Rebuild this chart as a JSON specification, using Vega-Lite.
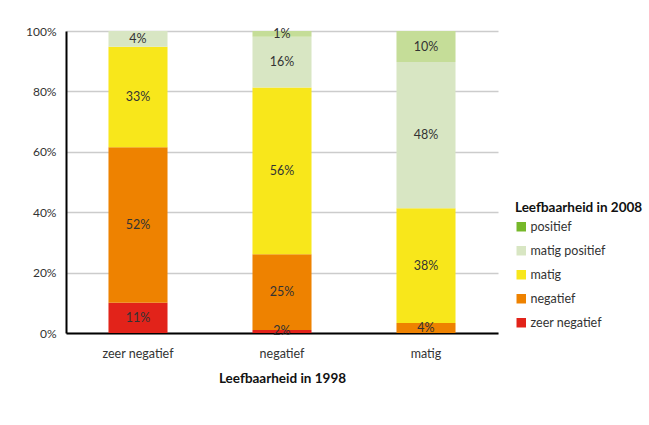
{
  "$schema": "https://vega.github.io/schema/vega-lite/v6.json",
  "autosize": {"type": "none"},
  "width": 432,
  "height": 302,
  "padding": {"left": 66, "top": 31, "right": 151, "bottom": 92},
  "background": "white",
  "config": {
    "font": "Lato",
    "view": {"stroke": null},
    "axis": {"labelFont": "Lato", "titleFont": "Lato"},
    "legend": {"labelFont": "Lato", "titleFont": "Lato"}
  },
  "data": {
    "values": [
      {"jaar1998": "zeer negatief", "jaar2008": "zeer negatief", "rank": 1, "aandeel": 0.100, "label": "11%"},
      {"jaar1998": "zeer negatief", "jaar2008": "negatief", "rank": 2, "aandeel": 0.515, "label": "52%"},
      {"jaar1998": "zeer negatief", "jaar2008": "matig", "rank": 3, "aandeel": 0.333, "label": "33%"},
      {"jaar1998": "zeer negatief", "jaar2008": "matig positief", "rank": 4, "aandeel": 0.052, "label": "4%"},
      {"jaar1998": "negatief", "jaar2008": "zeer negatief", "rank": 1, "aandeel": 0.010, "label": "2%"},
      {"jaar1998": "negatief", "jaar2008": "negatief", "rank": 2, "aandeel": 0.251, "label": "25%"},
      {"jaar1998": "negatief", "jaar2008": "matig", "rank": 3, "aandeel": 0.552, "label": "56%"},
      {"jaar1998": "negatief", "jaar2008": "matig positief", "rank": 4, "aandeel": 0.168, "label": "16%"},
      {"jaar1998": "negatief", "jaar2008": "positief", "rank": 5, "aandeel": 0.019, "label": "1%"},
      {"jaar1998": "matig", "jaar2008": "negatief", "rank": 2, "aandeel": 0.033, "label": "4%"},
      {"jaar1998": "matig", "jaar2008": "matig", "rank": 3, "aandeel": 0.380, "label": "38%"},
      {"jaar1998": "matig", "jaar2008": "matig positief", "rank": 4, "aandeel": 0.484, "label": "48%"},
      {"jaar1998": "matig", "jaar2008": "positief", "rank": 5, "aandeel": 0.103, "label": "10%"}
    ]
  },
  "encoding": {
    "x": {
      "field": "jaar1998",
      "type": "nominal",
      "sort": ["zeer negatief", "negatief", "matig"],
      "scale": {"paddingInner": 0.59, "paddingOuter": 0.295},
      "axis": {
        "title": "Leefbaarheid in 1998",
        "labelAngle": 0,
        "labelFontSize": 12.5,
        "labelColor": "#333333",
        "labelPadding": 14,
        "ticks": false,
        "domainColor": "#000000",
        "domainWidth": 2,
        "titleFontSize": 13.5,
        "titleFontWeight": "bold",
        "titleColor": "#111111",
        "titlePadding": 12
      }
    }
  },
  "layer": [
    {
      "mark": {"type": "bar"},
      "encoding": {
        "y": {
          "field": "aandeel",
          "type": "quantitative",
          "stack": "zero",
          "scale": {"domain": [0, 1]},
          "axis": {
            "title": null,
            "format": ".0%",
            "values": [0, 0.2, 0.4, 0.6, 0.8, 1],
            "labelFontSize": 12,
            "labelColor": "#333333",
            "labelPadding": 10,
            "ticks": false,
            "domainColor": "#000000",
            "domainWidth": 2,
            "gridColor": "#cccccc",
            "gridWidth": 1.5
          }
        },
        "color": {
          "field": "jaar2008",
          "type": "nominal",
          "scale": {
            "domain": ["positief", "matig positief", "matig", "negatief", "zeer negatief"],
            "range": ["#c5dd98", "#d8e6c3", "#f8e71b", "#ee8200", "#e2231a"]
          },
          "legend": null
        },
        "order": {"field": "rank", "type": "quantitative", "sort": "ascending"}
      }
    },
    {
      "mark": {"type": "square", "opacity": 0},
      "encoding": {
        "y": {"field": "aandeel", "type": "quantitative", "stack": "zero"},
        "color": {
          "field": "jaar2008",
          "type": "nominal",
          "scale": {
            "domain": ["positief", "matig positief", "matig", "negatief", "zeer negatief"],
            "range": ["#76b82a", "#d8e6c3", "#f8e71b", "#ee8200", "#e2231a"]
          },
          "legend": {
            "title": "Leefbaarheid in 2008",
            "orient": "none",
            "legendX": 449,
            "legendY": 170,
            "symbolType": "square",
            "symbolSize": 90,
            "symbolOpacity": 1,
            "symbolStrokeWidth": 0,
            "labelFontSize": 12.5,
            "labelColor": "#333333",
            "labelOffset": 3,
            "rowPadding": 11,
            "titleFontSize": 13.5,
            "titleFontWeight": "bold",
            "titleColor": "#111111",
            "titlePadding": 6
          }
        },
        "order": {"field": "rank", "type": "quantitative", "sort": "ascending"}
      }
    },
    {
      "mark": {"type": "text", "fontSize": 12.5, "color": "#333333", "baseline": "middle"},
      "encoding": {
        "y": {"field": "aandeel", "type": "quantitative", "stack": "zero", "bandPosition": 0.5},
        "detail": {"field": "jaar2008"},
        "text": {"field": "label", "type": "nominal"},
        "order": {"field": "rank", "type": "quantitative", "sort": "ascending"}
      }
    }
  ],
  "resolve": {"scale": {"color": "independent"}}
}
